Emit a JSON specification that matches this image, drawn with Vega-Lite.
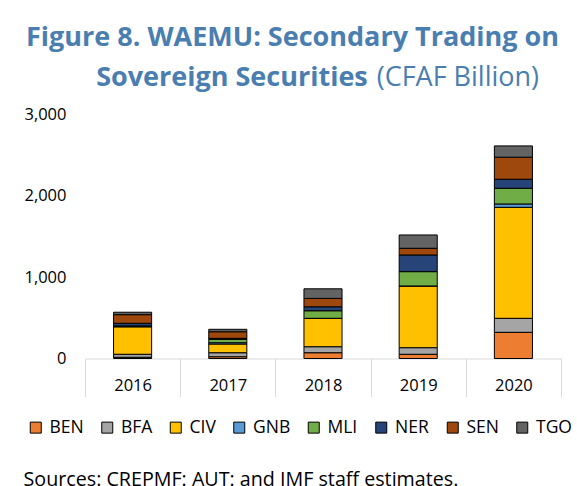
{
  "$schema": "https://vega.github.io/schema/vega-lite/v6.json",
  "autosize": {"type": "none"},
  "width": 476,
  "height": 244,
  "padding": {"left": 85, "top": 114.5, "right": 16, "bottom": 127.5},
  "background": "#ffffff",
  "title": {
    "text": ["Figure 8. WAEMU: Secondary Trading on", "\u200b\u00a0\u00a0\u00a0\u00a0\u00a0\u00a0\u00a0\u00a0\u00a0\u00a0Sovereign Securities"],
    "subtitle": "\u200b\u00a0\u00a0\u00a0\u00a0\u00a0\u00a0\u00a0\u00a0\u00a0\u00a0\u00a0\u00a0\u00a0\u00a0\u00a0\u00a0\u00a0\u00a0\u00a0\u00a0\u00a0\u00a0\u00a0\u00a0\u00a0\u00a0\u00a0\u00a0\u00a0\u00a0\u00a0\u00a0\u00a0\u00a0\u00a0\u00a0\u00a0\u00a0\u00a0\u00a0\u00a0\u00a0\u00a0\u00a0\u00a0\u00a0\u00a0\u00a0\u00a0\u00a0(CFAF Billion)",
    "anchor": "start",
    "frame": "group",
    "dx": -59,
    "offset": 15,
    "font": "Open Sans",
    "fontSize": 27,
    "fontWeight": "bold",
    "color": "#4a7eb0",
    "lineHeight": 40,
    "subtitleFont": "Open Sans",
    "subtitleFontSize": 27,
    "subtitleFontWeight": "normal",
    "subtitleColor": "#4a7eb0",
    "subtitlePadding": -27
  },
  "data": {
    "values": [
      {"year": "2016", "country": "BEN", "value": 15},
      {"year": "2016", "country": "BFA", "value": 37},
      {"year": "2016", "country": "CIV", "value": 339},
      {"year": "2016", "country": "GNB", "value": 0},
      {"year": "2016", "country": "MLI", "value": 10},
      {"year": "2016", "country": "NER", "value": 32},
      {"year": "2016", "country": "SEN", "value": 106},
      {"year": "2016", "country": "TGO", "value": 30},
      {"year": "2017", "country": "BEN", "value": 22},
      {"year": "2017", "country": "BFA", "value": 49},
      {"year": "2017", "country": "CIV", "value": 107},
      {"year": "2017", "country": "GNB", "value": 16},
      {"year": "2017", "country": "MLI", "value": 42},
      {"year": "2017", "country": "NER", "value": 12},
      {"year": "2017", "country": "SEN", "value": 81},
      {"year": "2017", "country": "TGO", "value": 30},
      {"year": "2018", "country": "BEN", "value": 71},
      {"year": "2018", "country": "BFA", "value": 74},
      {"year": "2018", "country": "CIV", "value": 349},
      {"year": "2018", "country": "GNB", "value": 0},
      {"year": "2018", "country": "MLI", "value": 93},
      {"year": "2018", "country": "NER", "value": 49},
      {"year": "2018", "country": "SEN", "value": 103},
      {"year": "2018", "country": "TGO", "value": 118},
      {"year": "2019", "country": "BEN", "value": 52},
      {"year": "2019", "country": "BFA", "value": 81},
      {"year": "2019", "country": "CIV", "value": 759},
      {"year": "2019", "country": "GNB", "value": 0},
      {"year": "2019", "country": "MLI", "value": 176},
      {"year": "2019", "country": "NER", "value": 205},
      {"year": "2019", "country": "SEN", "value": 82},
      {"year": "2019", "country": "TGO", "value": 164},
      {"year": "2020", "country": "BEN", "value": 322},
      {"year": "2020", "country": "BFA", "value": 172},
      {"year": "2020", "country": "CIV", "value": 1365},
      {"year": "2020", "country": "GNB", "value": 41},
      {"year": "2020", "country": "MLI", "value": 193},
      {"year": "2020", "country": "NER", "value": 111},
      {"year": "2020", "country": "SEN", "value": 271},
      {"year": "2020", "country": "TGO", "value": 139}
    ]
  },
  "mark": {"type": "bar", "width": {"band": 0.4}, "stroke": "#000000", "strokeWidth": 1},
  "encoding": {
    "x": {
      "field": "year",
      "type": "nominal",
      "scale": {"paddingInner": 0, "paddingOuter": 0},
      "axis": {
        "labelAngle": 0,
        "tickBand": "extent",
        "tickSize": 38,
        "tickColor": "#d9d9d9",
        "domainColor": "#d9d9d9",
        "labelPadding": -19,
        "labelFont": "Open Sans",
        "labelFontSize": 16.5,
        "labelColor": "#000000",
        "title": "Sources: CREPMF: AUT: and IMF staff estimates.",
        "titleAnchor": "start",
        "titleAlign": "left",
        "titleX": -62,
        "titleY": 127,
        "titleBaseline": "alphabetic",
        "titleFont": "Open Sans",
        "titleFontSize": 19.7,
        "titleFontWeight": "normal",
        "titleColor": "#000000"
      }
    },
    "y": {
      "field": "value",
      "type": "quantitative",
      "stack": "zero",
      "scale": {"domain": [0, 3000], "nice": false},
      "axis": {
        "values": [0, 1000, 2000, 3000],
        "format": ",.0f",
        "domain": false,
        "ticks": false,
        "grid": false,
        "labelPadding": 19,
        "labelFont": "Open Sans",
        "labelFontSize": 16.5,
        "labelColor": "#000000",
        "title": null
      }
    },
    "color": {
      "field": "country",
      "type": "nominal",
      "scale": {
        "domain": ["BEN", "BFA", "CIV", "GNB", "MLI", "NER", "SEN", "TGO"],
        "range": ["#ed7d31", "#a5a5a5", "#ffc000", "#5b9bd5", "#70ad47", "#264478", "#9e480e", "#636363"]
      },
      "legend": {
        "orient": "none",
        "legendX": -58,
        "legendY": 304,
        "direction": "horizontal",
        "title": null,
        "symbolType": "square",
        "symbolSize": 121,
        "symbolStrokeColor": "#000000",
        "symbolStrokeWidth": 1,
        "labelFont": "Open Sans",
        "labelFontSize": 17.5,
        "labelColor": "#000000",
        "labelOffset": 5,
        "columnPadding": 14.5
      }
    },
    "order": {"field": "country", "sort": "ascending"}
  },
  "config": {
    "view": {"stroke": null}
  }
}
